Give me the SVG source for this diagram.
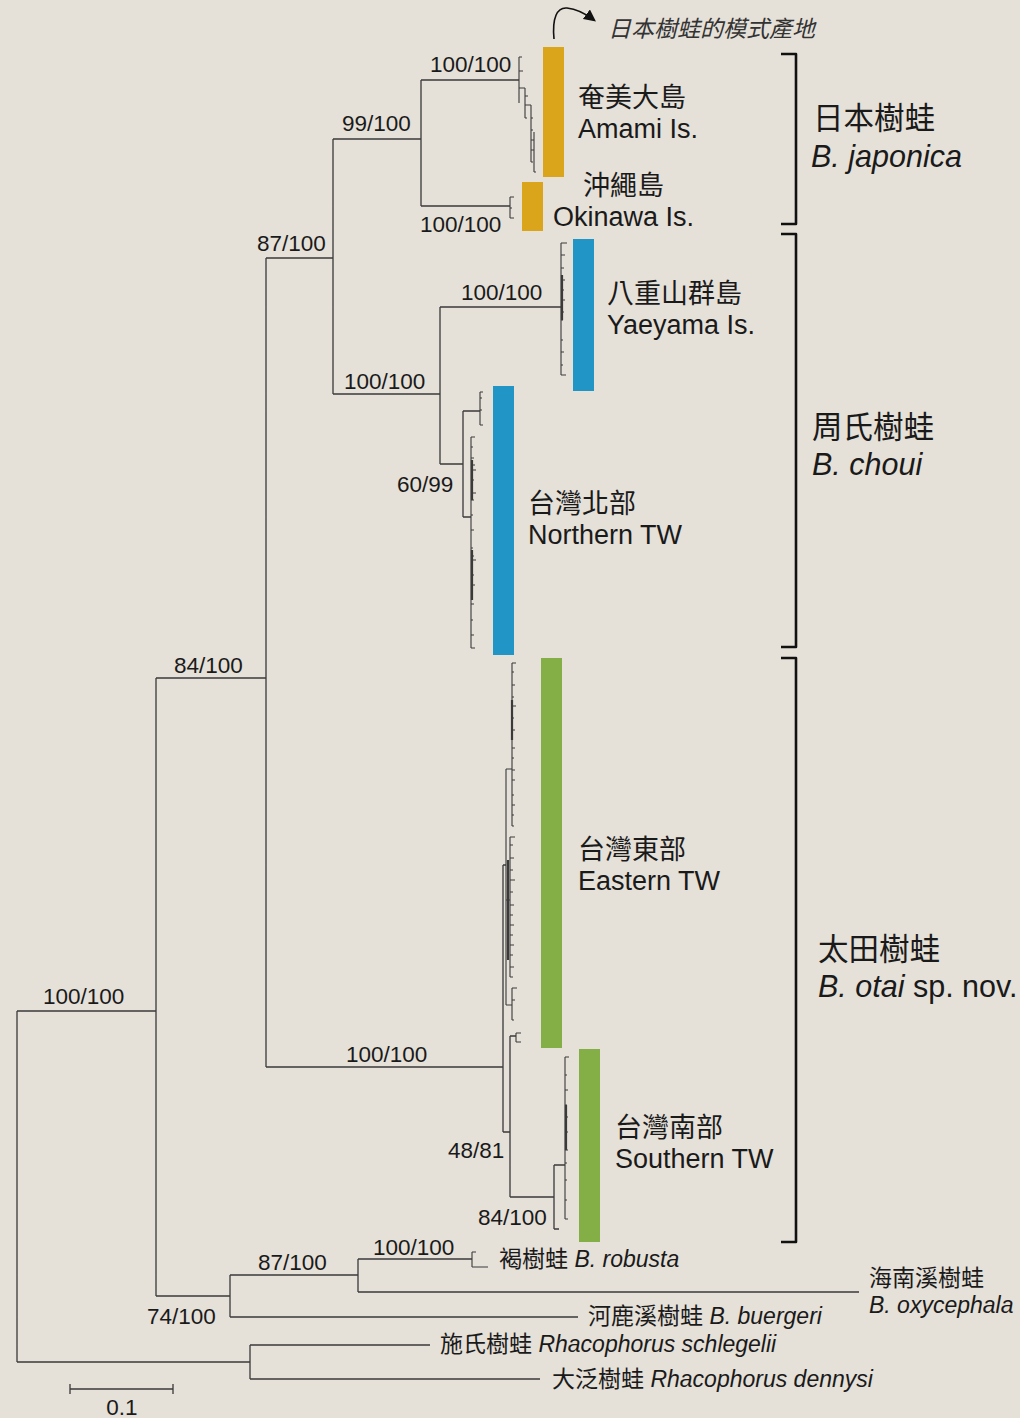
<svg xmlns="http://www.w3.org/2000/svg" width="1020" height="1418" viewBox="0 0 1020 1418">
<defs>
<style>
.t{font-family:"Liberation Sans","Noto Sans CJK TC",sans-serif;fill:#1a1a1a}
.s{font-size:22.5px}
.r{font-size:27px}
.b{font-size:30.5px}
.o{font-size:23px}
.i{font-style:italic}
.e{fill:none;stroke:#3a3a3a;stroke-width:1.3}
.tip{fill:none;stroke:#3a3a3a;stroke-width:1.1}
.thick{fill:none;stroke:#3a3a3a;stroke-width:2.2}
.br{fill:none;stroke:#111;stroke-width:2.6;stroke-linejoin:round}
.or{fill:#dba51b}
.bl{fill:#2196c6}
.gr{fill:#84ae46}
</style>
<marker id="ah" viewBox="0 0 10 10" refX="8" refY="5" markerWidth="12" markerHeight="12" markerUnits="userSpaceOnUse" orient="auto"><path d="M0,0 L10,5 L0,10 Z" fill="#111"/></marker>
</defs>
<rect width="1020" height="1418" fill="#e5e0d8"/>

<g id="connectors">
<path class="e" d="M17,1011 V1362 M17,1011 H156 M17,1362 H250 M156,678 V1296 M156,678 H266 M156,1296 H230 M266,258 V1067 M266,258 H333 M266,1067 H503 M333,139 V394 M333,139 H421 M333,394 H440 M421,80 V206 M421,80 H519 M421,206 H510 M440,307 V464 M440,307 H561 M440,464 H463 M463,411 V517 M463,411 H480 M463,517 H471 M503,865 V1132 M503,865 H506 M503,1132 H510 M510,1036 V1197 M510,1036 H516 M510,1197 H554 M554,1165 V1229 M554,1165 H565 M554,1229 H559 M230,1275 V1317 M230,1275 H358 M230,1317 H578 M358,1259 V1292 M358,1259 H472 M358,1292 H859 M250,1345 V1379 M250,1345 H430 M250,1379 H540"/>
<path class="tip" d="M519,57 V103 M519,57 H522 M519,71 H523 M519,88 H525 M525,88 V118 M525,96 H528 M525,118 H527 M525,105 H531 M531,105 V162 M531,118 H533 M531,130 H533 M531,140 H534 M534,132 V172 M531,150 H534 M531,162 H533 M534,172 H536"/>
<path class="tip" d="M510,197 V218 M510,197 H514 M510,208 H512 M510,218 H514"/>
<path class="tip" d="M561,243 V375 M561,243 H567 M561,255 H565 M561,268 H564 M561,280 H565 M561,290 H564 M561,300 H565 M561,312 H564 M561,320 H563 M561,340 H563 M561,352 H564 M561,365 H563 M561,375 H566"/>
<path class="thick" d="M562,275 V320"/>
<path class="tip" d="M480,392 V425 M480,392 H483 M480,398 H482 M480,410 H482 M480,425 H483 M471,437 V648 M471,437 H475 M471,447 H473 M471,458 H474 M471,465 H475 M471,470 H476 M471,480 H474 M471,493 H476 M471,500 H474 M471,515 H473 M471,530 H474 M471,548 H473 M471,556 H474 M471,560 H476 M471,575 H474 M471,585 H475 M471,604 H474 M471,620 H473 M471,635 H474 M471,648 H475"/>
<path class="thick" d="M472,460 V500 M472,550 V600"/>
<path class="tip" d="M506,769 V1005 M506,769 H512 M512,663 V826 M512,663 H516 M512,672 H514 M512,685 H515 M512,697 H514 M512,706 H516 M512,718 H514 M512,730 H515 M512,748 H515 M512,758 H514 M512,770 H515 M512,780 H515 M512,795 H514 M512,805 H515 M512,815 H514 M512,826 H514 M506,900 H510 M510,837 V977 M510,837 H515 M510,845 H513 M510,858 H514 M510,870 H513 M510,880 H515 M510,892 H513 M510,905 H514 M510,915 H513 M510,925 H514 M510,935 H513 M510,945 H514 M510,955 H513 M510,967 H514 M510,977 H513 M506,1005 H512 M512,988 V1020 M512,988 H517 M512,1000 H515 M512,1020 H514 M516,1033 V1042 M516,1033 H521 M516,1042 H521"/>
<path class="thick" d="M508,860 V960 M512,700 V740"/>
<path class="tip" d="M565,1057 V1219 M565,1057 H569 M565,1075 H567 M565,1090 H568 M565,1105 H567 M565,1117 H568 M565,1125 H567 M565,1132 H568 M565,1140 H567 M565,1150 H568 M565,1163 H567 M565,1180 H567 M565,1200 H567 M565,1219 H568"/>
<path class="thick" d="M566,1105 V1150"/>
<path class="tip" d="M472,1252 V1267 M472,1252 H476 M472,1267 H488"/>
<path fill="none" stroke="#111" stroke-width="1.6" d="M554,39 C552,18 557,7 567,8 C577,9 586,14 594,20" marker-end="url(#ah)"/>
</g>

<g id="support" class="t s">
<text x="430" y="72">100/100</text>
<text x="342" y="131">99/100</text>
<text x="257" y="251">87/100</text>
<text x="420" y="232">100/100</text>
<text x="461" y="300">100/100</text>
<text x="344" y="389">100/100</text>
<text x="397" y="492">60/99</text>
<text x="174" y="673">84/100</text>
<text x="43" y="1004">100/100</text>
<text x="346" y="1062">100/100</text>
<text x="448" y="1158">48/81</text>
<text x="478" y="1225">84/100</text>
<text x="258" y="1270">87/100</text>
<text x="373" y="1255">100/100</text>
<text x="147" y="1324">74/100</text>
</g>

<g id="type-locality">
<text class="t i" x="608" y="37" font-size="23" style="fill:#333">日本樹蛙的模式產地</text>
</g>

<g id="amami">
<rect class="or" x="543" y="47" width="21" height="130"/>
<text class="t r" x="578" y="107">奄美大島</text>
<text class="t r" x="578" y="138">Amami Is.</text>
</g>
<g id="okinawa">
<rect class="or" x="522" y="182" width="21" height="49"/>
<text class="t r" x="583" y="195">沖繩島</text>
<text class="t r" x="553" y="226">Okinawa Is.</text>
</g>
<g id="yaeyama">
<rect class="bl" x="573" y="239" width="21" height="152"/>
<text class="t r" x="607" y="303">八重山群島</text>
<text class="t r" x="607" y="334">Yaeyama Is.</text>
</g>
<g id="northern">
<rect class="bl" x="493" y="386" width="21" height="269"/>
<text class="t r" x="528" y="513">台灣北部</text>
<text class="t r" x="528" y="544">Northern TW</text>
</g>
<g id="eastern">
<rect class="gr" x="541" y="658" width="21" height="390"/>
<text class="t r" x="578" y="859">台灣東部</text>
<text class="t r" x="578" y="890">Eastern TW</text>
</g>
<g id="southern">
<rect class="gr" x="579" y="1049" width="21" height="193"/>
<text class="t r" x="615" y="1137">台灣南部</text>
<text class="t r" x="615" y="1168">Southern TW</text>
</g>

<g id="japonica">
<path class="br" d="M781,54 H796 V224 H781"/>
<text class="t b" x="813" y="129">日本樹蛙</text>
<text class="t b i" x="811" y="167">B. japonica</text>
</g>
<g id="choui">
<path class="br" d="M781,234 H796 V647 H781"/>
<text class="t b" x="812" y="438">周氏樹蛙</text>
<text class="t b i" x="812" y="475">B. choui</text>
</g>
<g id="otai">
<path class="br" d="M781,658 H796 V1242 H781"/>
<text class="t b" x="818" y="960">太田樹蛙</text>
<text class="t b" x="818" y="997"><tspan class="i">B. otai</tspan> sp. nov.</text>
</g>

<g id="robusta"><text class="t o" x="499" y="1267">褐樹蛙 <tspan class="i">B. robusta</tspan></text></g>
<g id="oxycephala">
<text class="t o" x="869" y="1286">海南溪樹蛙</text>
<text class="t o i" x="869" y="1313">B. oxycephala</text>
</g>
<g id="buergeri"><text class="t o" x="588" y="1324">河鹿溪樹蛙 <tspan class="i">B. buergeri</tspan></text></g>
<g id="schlegelii"><text class="t o" x="440" y="1352">施氏樹蛙 <tspan class="i">Rhacophorus schlegelii</tspan></text></g>
<g id="dennysi"><text class="t o" x="552" y="1387">大泛樹蛙 <tspan class="i">Rhacophorus dennysi</tspan></text></g>

<g id="scale">
<path class="e" d="M70,1389 H173 M70,1384 V1394 M173,1384 V1394"/>
<text class="t s" x="122" y="1415" text-anchor="middle">0.1</text>
</g>
</svg>
